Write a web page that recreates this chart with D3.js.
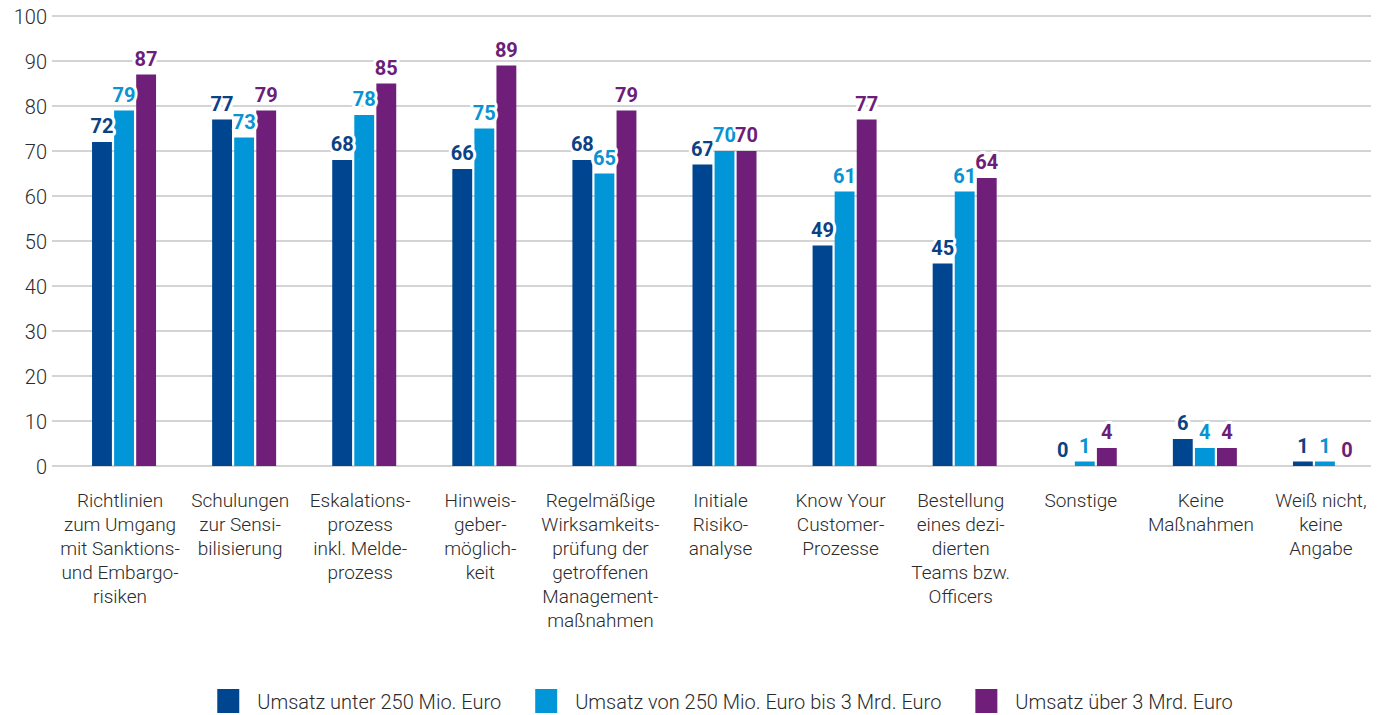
<!DOCTYPE html>
<html>
<head>
<meta charset="utf-8">
<script src="https://cdn.jsdelivr.net/npm/d3@7"></script>
<style>
  html, body { margin: 0; padding: 0; background: #fff; }
  svg { display: block; }
  .cat, .tick-label, .legend-text { font-family: Roboto, "Liberation Sans", sans-serif; font-weight: 300; fill: #2b2b2b; }
  .val { font-family: Roboto, "Liberation Sans", sans-serif; font-weight: 700; }
</style>
</head>
<body>
<svg id="chart" width="1392" height="715"></svg>
<script>
// Categories (label lines)
const categories = [
  ["Richtlinien", "zum Umgang", "mit Sanktions-", "und Embargo-", "risiken"],
  ["Schulungen", "zur Sensi-", "bilisierung"],
  ["Eskalations-", "prozess", "inkl. Melde-", "prozess"],
  ["Hinweis-", "geber-", "möglich-", "keit"],
  ["Regelmäßige", "Wirksamkeits-", "prüfung der", "getroffenen", "Management-", "maßnahmen"],
  ["Initiale", "Risiko-", "analyse"],
  ["Know Your", "Customer-", "Prozesse"],
  ["Bestellung", "eines dezi-", "dierten", "Teams bzw.", "Officers"],
  ["Sonstige"],
  ["Keine", "Maßnahmen"],
  ["Weiß nicht,", "keine", "Angabe"]
];

// Series names and values (percent)
const seriesNames = [
  "Umsatz unter 250 Mio. Euro",
  "Umsatz von 250 Mio. Euro bis 3 Mrd. Euro",
  "Umsatz über 3 Mrd. Euro"
];
const valuesSmall  = [72, 77, 68, 66, 68, 67, 49, 45, 0, 6, 1];
const valuesMedium = [79, 73, 78, 75, 65, 70, 61, 61, 1, 4, 1];
const valuesLarge  = [87, 79, 85, 89, 79, 70, 77, 64, 4, 4, 0];

const yTicks = [0, 10, 20, 30, 40, 50, 60, 70, 80, 90, 100];

const colors = ["#00458f", "#0096d8", "#6f1f7a"];
const textColors = ["#0a4284", "#0a93d2", "#6c1e78"];

const seriesValues = [valuesSmall, valuesMedium, valuesLarge];
const catKeys = categories.map(c => c.join(" "));

const svg = d3.select("#chart");

// Layout
const gridLeft = 52, gridRight = 1371;
const y = d3.scaleLinear().domain([0, 100]).range([466, 16]);

const x0 = d3.scaleBand().domain(catKeys).range([64, 1385]).paddingInner(0).paddingOuter(0);
const x1 = d3.scaleBand().domain(d3.range(3)).range([0, 64]).paddingInner(0.1);
const groupStart = k => x0(k) + x0.bandwidth() / 2 - 32;

// Gridlines
const grid = svg.append("g");
grid.selectAll("line").data(yTicks).join("line")
  .attr("x1", gridLeft).attr("x2", gridRight)
  .attr("y1", d => y(d)).attr("y2", d => y(d))
  .attr("stroke", "#c6c6c6").attr("stroke-width", 1.5);

// Y axis tick labels
const yAxis = d3.axisLeft(y).tickValues(yTicks).tickSize(0).tickPadding(0);
const yg = svg.append("g").attr("transform", `translate(${gridLeft - 5},0)`).call(yAxis);
yg.select(".domain").remove();
yg.selectAll("text")
  .attr("class", "tick-label")
  .attr("font-size", 20)
  .attr("dy", "0.35em");

// Bars
const groups = svg.append("g").selectAll("g").data(catKeys).join("g")
  .attr("transform", k => `translate(${groupStart(k)},0)`);

groups.each(function(k, ci) {
  const g = d3.select(this);
  const rows = seriesValues.map((vals, si) => ({ si, v: vals[ci] }));
  g.selectAll("rect").data(rows).join("rect")
    .attr("x", d => x1(d.si))
    .attr("width", x1.bandwidth())
    .attr("y", d => y(d.v))
    .attr("height", d => y(0) - y(d.v))
    .attr("fill", d => colors[d.si]);
  g.selectAll("text").data(rows).join("text")
    .attr("class", "val")
    .attr("x", d => x1(d.si) + x1.bandwidth() / 2)
    .attr("y", d => y(d.v) - 9)
    .attr("text-anchor", "middle")
    .attr("font-size", 20)
    .attr("fill", d => textColors[d.si])
    .attr("stroke", "#fff").attr("stroke-width", 6)
    .attr("paint-order", "stroke")
    .attr("stroke-linejoin", "round")
    .text(d => d.v);
});

// Category labels
const catG = svg.append("g");
categories.forEach((lines, i) => {
  const cx = x0(catKeys[i]) + x0.bandwidth() / 2 - 4;
  const t = catG.append("text")
    .attr("class", "cat")
    .attr("text-anchor", "middle")
    .attr("font-size", 19)
    .attr("x", cx).attr("y", 507);
  lines.forEach((ln, j) => {
    t.append("tspan").attr("x", cx).attr("dy", j === 0 ? 0 : 24).text(ln);
  });
});

// Legend
const legend = svg.append("g");
const items = legend.selectAll("g").data(seriesNames).join("g");
items.append("rect")
  .attr("width", 22).attr("height", 24)
  .attr("y", 689)
  .attr("fill", (d, i) => colors[i]);
items.append("text")
  .attr("class", "legend-text")
  .attr("font-size", 20)
  .attr("x", 40).attr("y", 709)
  .text(d => d);

let offset = 0;
const positions = [];
const itemGap = 34;
items.each(function() {
  const w = d3.select(this).select("text").node().getComputedTextLength();
  positions.push(offset);
  offset += 40 + w + itemGap;
});
const totalWidth = offset - itemGap;
const legendStart = 725 - totalWidth / 2;
items.attr("transform", (d, i) => `translate(${legendStart + positions[i]},0)`);
</script>
</body>
</html>
